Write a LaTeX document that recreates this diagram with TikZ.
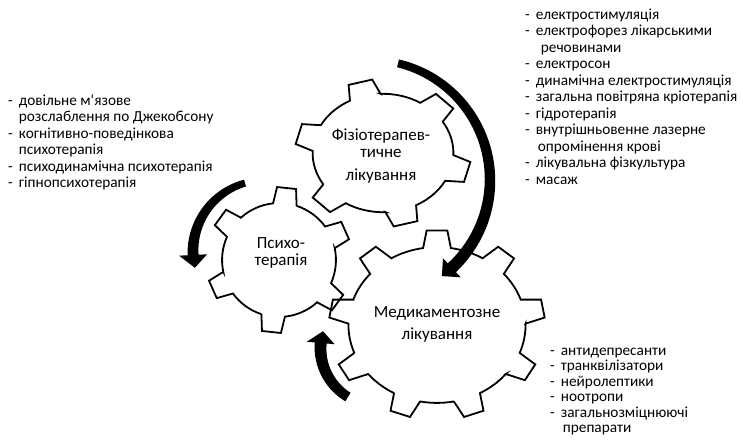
\documentclass[tikz,border=0pt]{standalone}
\usepackage{fontspec}
\setmainfont{Carlito}
\usetikzlibrary{arrows.meta}

\tikzset{
  gearline/.style={line width=1.8pt, line join=miter, draw=black},
  listtext/.style={inner sep=0pt, anchor=base west, font=\fontsize{15.3}{16.5}\selectfont},
  listtextb/.style={inner sep=0pt, anchor=base west, font=\fontsize{15.3}{15.5}\selectfont},
  gearlabel/.style={inner sep=0pt, align=center, font=\fontsize{17}{17}\selectfont},
  bandfill/.style={fill=black},
}

% #1 cx, #2 cy, #3 rx, #4 ry, #5 teeth, #6 rotation, #7 inner ratio, #8 tip half-angle, #9 base half-angle
\newcommand{\mygear}[9]{%
  \pgfmathsetmacro\gstep{360/#5}%
  \pgfmathtruncatemacro\glast{#5-1}%
  \draw[gearline, shift={(#1,#2)}, xscale=#3, yscale=#4]
    ({#6-#9}:#7) \foreach \i [evaluate=\i as \ga using #6+\i*\gstep] in {0,...,\glast} {
      -- ({\ga-#9}:#7) -- ({\ga-#8}:1) -- ({\ga+#8}:1) -- ({\ga+#9}:#7)
      arc[start angle={\ga+#9}, end angle={\ga+\gstep-#9}, radius=#7] } -- cycle;
}

% #1 cx, #2 cy, #3 R, #4 a1, #5 a2, #6 w0, #7 w1, #8 head width, #9 head length
\newcommand{\bandarrow}[9]{%
  \pgfmathsetmacro\sgn{(#5>#4)?1:-1}%
  \pgfmathsetmacro\tipa{#5+\sgn*#9/#3*57.2958}%
  \pgfmathsetmacro\aend{#5+\sgn*1.5}%
  \fill[bandfill, shift={(#1,#2)}]
    plot[domain=#4:\aend, samples=60] ({\x}:{#3+(#6+(#7-#6)*(\x-(#4))/(#5-(#4)))/2})
    -- plot[domain=\aend:#4, samples=60] ({\x}:{#3-(#6+(#7-#6)*(\x-(#4))/(#5-(#4)))/2}) -- cycle;
  \fill[bandfill, shift={(#1,#2)}] (#5:{#3+#8/2}) -- (\tipa:#3) -- (#5:{#3-#8/2}) -- cycle;
}

\begin{document}
\begin{tikzpicture}[x=1pt,y=1pt]
\fill[white] (0,0) rectangle (743,-440);
\useasboundingbox (0,0) rectangle (743,-440);

% gears
\mygear{279}{-260}{73}{73}{6}{84}{0.78}{7.5}{12}
\mygear{383}{-153}{88}{74}{6}{105}{0.8}{8}{13}
\mygear{437}{-325}{108}{95}{9}{90}{0.82}{5.5}{9}

% curved arrows
\bandarrow{370}{-180}{120}{76.5}{-47}{8}{12}{26}{13}
\bandarrow{264}{-251.5}{71}{105.5}{182.8}{7}{11}{28}{13}
\bandarrow{378}{-348}{57.5}{238.5}{175}{10}{12}{28}{12}

% gear labels
\node[gearlabel] (phys) at (381,-156) {Фізіотерапев-\\тичне\\[6pt]лікування};
\node[gearlabel] (psy) at (281,-253) {Психо-\\терапія};
\node[gearlabel] (med) at (437,-324) {Медикаментозне\\[5pt]лікування};

% lists
\node[listtext] (lstpsy) at (8,-105) {\begin{tabular}[t]{@{}l@{\hspace{6pt}}l@{}}
- & довільне м‘язове\\
  & розслаблення по Джекобсону\\
- & когнітивно-поведінкова\\
  & психотерапія\\
- & психодинамічна психотерапія\\
- & гіпнопсихотерапія
\end{tabular}};

\node[listtext] (lstphys) at (525,-19) {\begin{tabular}[t]{@{}l@{\hspace{6pt}}l@{}}
- & електростимуляція\\
- & електрофорез лікарськими\\
  & \hspace{5pt}речовинами\\
- & електросон\\
- & динамічна електростимуляція\\
- & загальна повітряна кріотерапія\\
- & гідротерапія\\
- & внутрішньовенне лазерне\\
  & \hspace{2pt}опромінення крові\\
- & лікувальна фізкультура\\
- & масаж
\end{tabular}};

\node[listtextb] (lstmed) at (550,-355) {\begin{tabular}[t]{@{}l@{\hspace{6pt}}l@{}}
- & антидепресанти\\
- & транквілізатори\\
- & нейролептики\\
- & ноотропи\\
- & загальнозміцнюючі\\
  & \hspace{2pt}препарати
\end{tabular}};
\end{tikzpicture}
\end{document}
